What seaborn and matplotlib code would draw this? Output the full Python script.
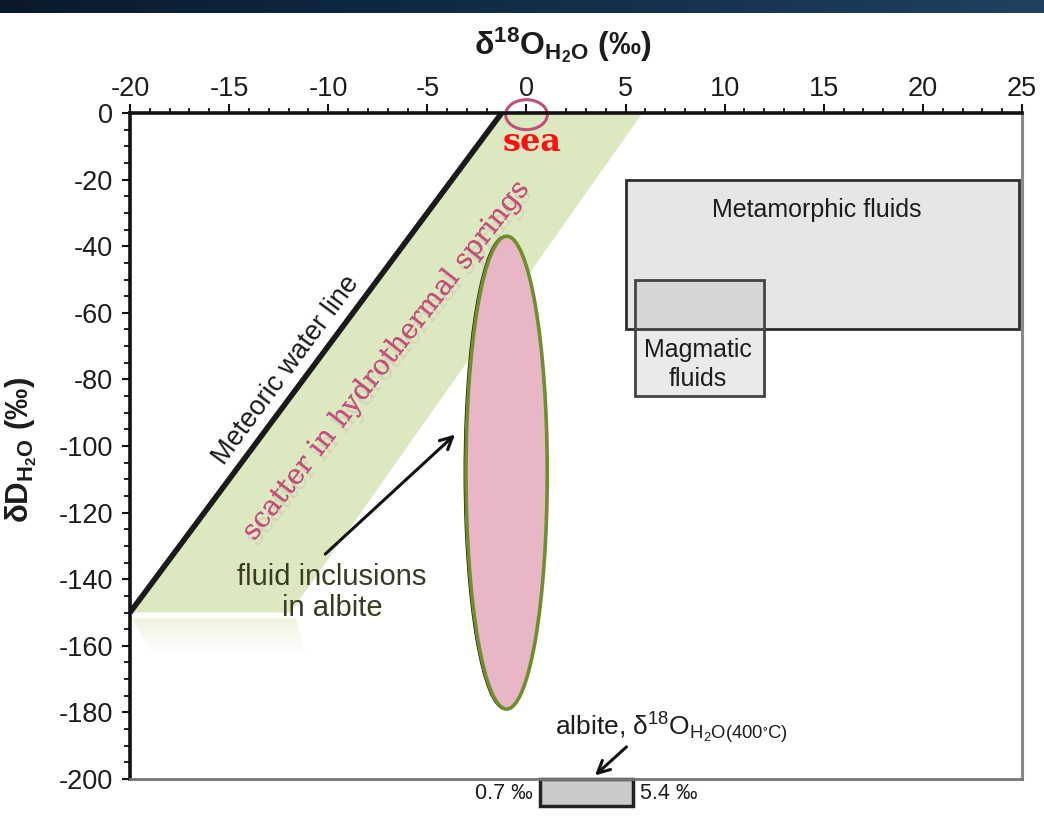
import numpy as np
import matplotlib
matplotlib.use("Agg")
import matplotlib.pyplot as plt
import matplotlib.patheffects as pe
from matplotlib.patches import Polygon, Ellipse, Rectangle
from matplotlib.colors import LinearSegmentedColormap
from matplotlib.ticker import MultipleLocator
import seaborn as sns

# ---- data (delta values in permil) ----
mwl_o18 = [-20.0, -1.25]          # meteoric water line end points
mwl_dD = [-150.0, 0.0]
band_o18 = [-20.0, -1.25, 5.85, -11.9]   # hydrothermal-spring scatter band
band_dD = [-150.0, 0.0, 0.0, -150.0]
fi_o18_center, fi_dD_center = -1.0, -108.0   # fluid inclusions in albite
fi_o18_width, fi_dD_height = 4.1, 142.0
meta_o18 = [5.0, 24.85]           # metamorphic fluids box
meta_dD = [-65.0, -20.0]
mag_o18 = [5.5, 12.0]             # magmatic fluids box
mag_dD = [-85.0, -50.0]
albite_o18 = [0.7, 5.4]           # albite-derived water at 400 C
sea_o18, sea_dD = 0.0, 0.0        # sea water (SMOW)

sns.set_theme(style="white")
plt.rcParams["font.family"] = ["Liberation Sans", "DejaVu Sans"]
plt.rcParams["axes.unicode_minus"] = False
plt.rcParams["mathtext.fontset"] = "custom"
plt.rcParams["mathtext.rm"] = "Liberation Sans"
plt.rcParams["mathtext.it"] = "Liberation Sans:italic"
plt.rcParams["mathtext.bf"] = "Liberation Sans:bold"
plt.rcParams["mathtext.default"] = "regular"

W, H = 1044, 818
fig = plt.figure(figsize=(W / 100, H / 100), dpi=100)
fig.patch.set_facecolor("white")

# dark banner strip across the top
band_ax = fig.add_axes([0, 1 - 13 / H, 1, 13 / H])
grad = np.linspace(0, 1, 256).reshape(1, -1)
banner = LinearSegmentedColormap.from_list("banner", ["#0a1a2b", "#0f2740", "#163450", "#1e4260"])
band_ax.imshow(grad, aspect="auto", cmap=banner)
band_ax.axis("off")

ax = fig.add_axes([130 / W, 1 - 779 / H, 892 / W, 666 / H])
ax.set_xlim(-20, 25)
ax.set_ylim(-200, 0)

# scatter band of hydrothermal springs
ax.add_patch(Polygon(list(zip(band_o18, band_dD)), closed=True,
                     facecolor="#dce8bf", edgecolor="none", zorder=1))

# faint reflection below the band
refl = LinearSegmentedColormap.from_list("refl", ["#ffffff", "#eef3df"])
refl_img = ax.imshow(np.linspace(0, 1, 64).reshape(-1, 1), cmap=refl,
                     extent=[-20, -11.0, -162, -151.8], aspect="auto",
                     origin="lower", zorder=0.9)
refl_poly = Polygon([(-19.9, -151.8), (-11.6, -151.8), (-11.2, -162), (-18.9, -162)],
                    closed=True, transform=ax.transData, facecolor="none", edgecolor="none")
ax.add_patch(refl_poly)
refl_img.set_clip_path(refl_poly)
ax.set_xlim(-20, 25)
ax.set_ylim(-200, 0)

# meteoric water line
sns.lineplot(x=mwl_o18, y=mwl_dD, ax=ax, color="#1a1a1a", lw=4, zorder=3,
             solid_capstyle="butt")

# metamorphic and magmatic fluid boxes
ax.add_patch(Rectangle((meta_o18[0], meta_dD[0]), meta_o18[1] - meta_o18[0],
                       meta_dD[1] - meta_dD[0], facecolor="#8c8f94", alpha=0.22,
                       edgecolor="none", zorder=2))
ax.add_patch(Rectangle((meta_o18[0], meta_dD[0]), meta_o18[1] - meta_o18[0],
                       meta_dD[1] - meta_dD[0], facecolor="none",
                       edgecolor="#2e2e2e", lw=2, zorder=2.2))
ax.add_patch(Rectangle((mag_o18[0], mag_dD[0]), mag_o18[1] - mag_o18[0],
                       mag_dD[1] - mag_dD[0], facecolor="#8c8f94", alpha=0.18,
                       edgecolor="none", zorder=2.3))
ax.add_patch(Rectangle((mag_o18[0], mag_dD[0]), mag_o18[1] - mag_o18[0],
                       mag_dD[1] - mag_dD[0], facecolor="none",
                       edgecolor="#444444", lw=2, zorder=2.4))
ax.text(np.mean(meta_o18) - 0.3, meta_dD[1] - 9, "Metamorphic fluids", fontsize=18,
        ha="center", va="center", color="#1c1c1c", zorder=5)
ax.text(np.mean(mag_o18) - 0.1, -75.5, "Magmatic\nfluids", fontsize=18,
        ha="center", va="center", color="#1c1c1c", linespacing=1.3, zorder=5)

# fluid inclusions ellipse
ax.add_patch(Ellipse((fi_o18_center - 0.08, fi_dD_center), fi_o18_width, fi_dD_height,
                     facecolor="none", edgecolor="#111111", lw=1.2, zorder=3.5))
ax.add_patch(Ellipse((fi_o18_center, fi_dD_center), fi_o18_width, fi_dD_height,
                     facecolor="#e8b6c4", edgecolor="#6e8f2b", lw=2.6, zorder=4))

# labels along the meteoric water line and the band
ang = 53.5
ax.text(-12.1, -77.3, "Meteoric water line", fontsize=19.5, rotation=ang,
        rotation_mode="anchor", ha="center", va="center", color="#1a1a1a", zorder=5)
ax.text(-7.1, -74.5, "scatter in hydrothermal springs", fontsize=20,
        family="DejaVu Serif", rotation=52, rotation_mode="anchor",
        ha="center", va="center", color="#c4507c", zorder=6,
        path_effects=[pe.withSimplePatchShadow(offset=(2, -4), shadow_rgbFace="#c9a3b0",
                                               alpha=0.3), pe.Normal()])

# fluid inclusion label and arrow
ax.text(-9.8, -144.0, "fluid inclusions\nin albite", fontsize=21, ha="center",
        va="center", color="#3a3a24", linespacing=1.1, zorder=5)
ax.annotate("", xy=(-3.5, -96.0), xytext=(-10.25, -133.0),
            arrowprops=dict(arrowstyle="->", lw=2.2, color="#111111", mutation_scale=22),
            zorder=5)

# sea water marker
ax.add_patch(Ellipse((sea_o18, sea_dD - 0.5), 2.1, 9.0, facecolor="none",
                     edgecolor="#c0507a", lw=2.2, clip_on=False, zorder=7))
ax.text(sea_o18 + 0.3, sea_dD - 9.0, "sea", fontsize=23, family="DejaVu Serif",
        fontweight="bold", color="#ff1010", ha="center", va="center", zorder=7)

# albite box below the frame
ax.add_patch(Rectangle((albite_o18[0], -208.1), albite_o18[1] - albite_o18[0], 8.1,
                       facecolor="#c9cacc", edgecolor="#222222", lw=2.5,
                       clip_on=False, zorder=6))
ax.text(albite_o18[0] - 0.4, -204.3, "0.7 ‰", fontsize=15.5, ha="right", va="center",
        color="#1c1c1c")
ax.text(albite_o18[1] + 0.35, -204.3, "5.4 ‰", fontsize=15.5, ha="left", va="center",
        color="#1c1c1c")
ax.text(1.45, -186.8, r"albite, $\delta^{18}$O$_{H_2O(400^{\circ}C)}$", fontsize=19,
        ha="left", va="baseline", color="#1c1c1c", zorder=6)
ax.annotate("", xy=(3.35, -199.5), xytext=(5.15, -189.8),
            arrowprops=dict(arrowstyle="->", lw=2.2, color="#111111", mutation_scale=22),
            zorder=6, annotation_clip=False)

# axes styling
ax.xaxis.tick_top()
ax.xaxis.set_label_position("top")
ax.xaxis.set_major_locator(MultipleLocator(5))
ax.xaxis.set_minor_locator(MultipleLocator(1))
ax.yaxis.set_major_locator(MultipleLocator(20))
ax.yaxis.set_minor_locator(MultipleLocator(5))
ax.tick_params(axis="both", which="both", direction="out", color="#111111",
               labelcolor="#1c1c1c")
ax.tick_params(axis="x", which="major", length=6.5, width=1.5, labelsize=19.5, pad=1.5,
               top=True, bottom=False)
ax.tick_params(axis="x", which="minor", length=3.6, width=1.3, top=True, bottom=False)
ax.tick_params(axis="y", which="major", length=6, width=1.5, labelsize=19.5, pad=6,
               left=True, right=False)
ax.tick_params(axis="y", which="minor", length=4, width=1.3, left=True, right=False)

for side in ("top", "left"):
    ax.spines[side].set_color("#111111")
    ax.spines[side].set_linewidth(2.6)
ax.spines["right"].set_color("#8a8a8a")
ax.spines["right"].set_linewidth(2.2)
ax.spines["bottom"].set_color("#777777")
ax.spines["bottom"].set_linewidth(2)
for s in ax.spines.values():
    s.set_zorder(8)

ax.set_xlabel(r"$\delta^{18}$O$_{H_2O}$ (‰)", fontsize=23, fontweight="bold",
              color="#1c1c1c")
ax.xaxis.set_label_coords(0.485, 1.088)
ax.set_ylabel(r"$\delta$D$_{H_2O}$ (‰)", fontsize=22.5, fontweight="bold", color="#1c1c1c")
ax.yaxis.set_label_coords(-0.102, 0.494)
ax.grid(False)
ax.set_facecolor("white")

fig.savefig("out.png", dpi=100, facecolor="white")
